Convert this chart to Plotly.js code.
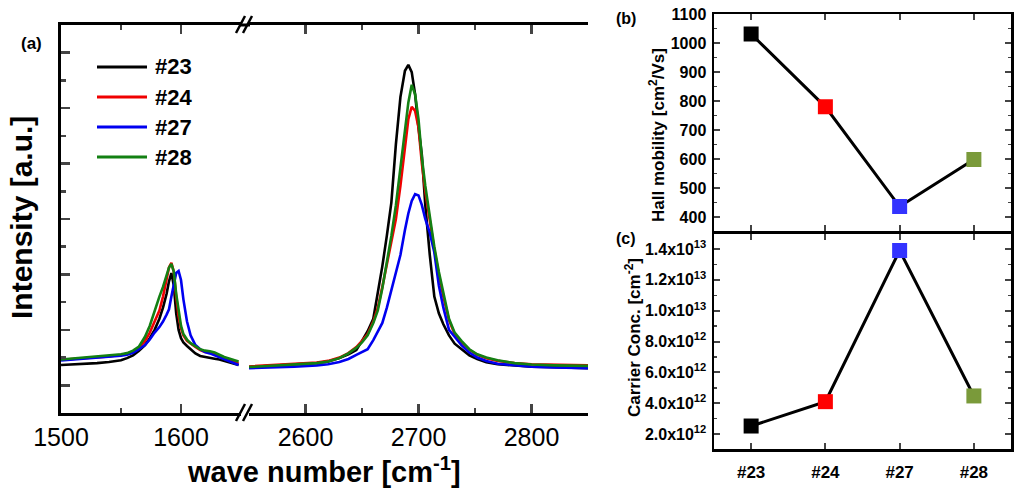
<!DOCTYPE html>
<html>
<head>
<meta charset="utf-8">
<script src="https://cdn.plot.ly/plotly-3.0.1.min.js"></script>
<style>html,body{margin:0;padding:0;background:#fff;}#chart{width:1020px;height:489px;}</style>
</head>
<body>
<div id="chart"></div>
<script>
// ---------- data ----------
const sampleNames = ['#23', '#24', '#27', '#28'];
const lineColors = ['#000000', '#f00000', '#0000f0', '#138013'];
const markerColors = ['#000000', '#ff0000', '#3333ff', '#7a9a3a'];

// G band region (cm-1)
const gWave = [1500,1510,1520,1530,1540,1550,1555,1560,1565,1570,1574,1578,1582,1585,1588,1590,1592,1594,1596,1598,1600,1602,1605,1608,1612,1616,1620,1624,1628,1632,1636,1640,1645,1648];
const g23 = [1.73,1.75,1.77,1.80,1.84,1.90,1.98,2.08,2.25,2.45,2.70,3.00,3.40,3.80,4.30,4.75,5.05,4.60,3.60,3.00,2.70,2.55,2.42,2.30,2.15,2.06,2.02,1.98,1.96,1.93,1.88,1.82,1.76,1.73];
const g24 = [1.92,1.95,1.98,2.00,2.04,2.10,2.14,2.22,2.35,2.60,2.90,3.30,3.70,4.20,4.85,5.25,5.42,5.10,4.20,3.50,3.05,2.80,2.60,2.50,2.38,2.27,2.20,2.18,2.10,2.02,1.96,1.90,1.84,1.80];
const g27 = [1.90,1.93,1.96,1.99,2.02,2.07,2.10,2.17,2.30,2.45,2.65,2.90,3.10,3.30,3.55,3.74,4.20,4.70,5.05,5.12,4.80,4.10,3.30,2.80,2.45,2.30,2.20,2.15,2.08,2.00,1.92,1.85,1.77,1.73];
const g28 = [1.93,1.97,2.00,2.03,2.07,2.12,2.16,2.25,2.40,2.75,3.15,3.70,4.20,4.55,5.00,5.25,5.38,5.10,4.30,3.70,3.15,2.85,2.65,2.52,2.40,2.30,2.25,2.23,2.18,2.10,2.02,1.97,1.90,1.86];

// 2D band region (cm-1)
const dWave = [2550,2570,2590,2610,2620,2630,2638,2645,2650,2655,2660,2664,2668,2672,2676,2680,2684,2688,2691,2694,2697,2700,2703,2706,2710,2714,2718,2722,2727,2732,2738,2745,2752,2760,2770,2785,2800,2820,2850];
const d23 = [1.66,1.70,1.74,1.80,1.86,1.98,2.12,2.27,2.60,2.95,3.40,4.30,5.30,6.40,7.60,9.70,11.40,12.35,12.56,12.30,11.50,10.30,9.30,7.50,5.70,4.20,3.60,3.20,2.80,2.50,2.30,2.08,1.95,1.83,1.76,1.71,1.67,1.65,1.62];
const d24 = [1.68,1.72,1.76,1.82,1.88,2.00,2.16,2.38,2.60,2.85,3.30,3.80,4.55,5.35,6.15,7.00,8.20,9.70,10.60,11.05,10.90,10.30,9.00,8.00,6.90,5.90,5.00,4.20,3.35,2.85,2.55,2.28,2.10,1.98,1.88,1.80,1.76,1.74,1.72];
const d27 = [1.62,1.64,1.67,1.72,1.76,1.84,1.95,2.10,2.20,2.30,2.63,2.95,3.25,3.80,4.40,5.00,5.70,6.60,7.20,7.65,7.90,7.85,7.50,7.00,6.50,5.80,4.60,3.80,3.00,2.75,2.45,2.18,2.00,1.88,1.78,1.72,1.67,1.64,1.62];
const d28 = [1.66,1.70,1.74,1.80,1.86,1.98,2.15,2.35,2.55,2.80,3.25,3.70,4.50,5.40,6.40,7.50,8.80,10.30,11.20,11.84,11.50,10.60,9.20,8.20,7.00,6.00,5.10,4.30,3.40,2.90,2.60,2.30,2.12,2.00,1.90,1.80,1.75,1.72,1.70];

const gSeries = [g23, g24, g27, g28];
const dSeries = [d23, d24, d27, d28];

// Hall data
const mobility = [1031, 780, 436, 598];
const carrier = [2.52e12, 4.1e12, 1.39e13, 4.47e12];

// tick labels
const leftWaveTicks = [1500, 1600];
const rightWaveTicks = [2600, 2700, 2800];
const mobilityTicks = [400, 500, 600, 700, 800, 900, 1000, 1100];
const concTickVals = [2e12, 4e12, 6e12, 8e12, 1.0e13, 1.2e13, 1.4e13];
const concTickText = ['2.0x10<sup>12</sup>', '4.0x10<sup>12</sup>', '6.0x10<sup>12</sup>', '8.0x10<sup>12</sup>',
                      '1.0x10<sup>13</sup>', '1.2x10<sup>13</sup>', '1.4x10<sup>13</sup>'];

// ---------- layout helpers ----------
const W = 1020, H = 489;
const px = v => v / W;
const py = v => (H - v) / H;
const FONT = 'Liberation Sans, Arial, sans-serif';

const traces = [];
for (let i = 0; i < 4; i++) {
  traces.push({x: gWave, y: gSeries[i], xaxis: 'x', yaxis: 'y', mode: 'lines',
    line: {color: lineColors[i], width: 2.6}, showlegend: false, hoverinfo: 'skip'});
  traces.push({x: dWave, y: dSeries[i], xaxis: 'x2', yaxis: 'y', mode: 'lines',
    line: {color: lineColors[i], width: 2.6}, showlegend: false, hoverinfo: 'skip'});
}
traces.push({x: sampleNames, y: mobility, xaxis: 'x3', yaxis: 'y3', mode: 'lines+markers',
  line: {color: '#000', width: 3}, marker: {symbol: 'square', size: 15, color: markerColors, line: {width: 0}},
  showlegend: false});
traces.push({x: sampleNames, y: carrier, xaxis: 'x4', yaxis: 'y4', mode: 'lines+markers',
  line: {color: '#000', width: 3}, marker: {symbol: 'square', size: 15, color: markerColors, line: {width: 0}},
  showlegend: false});

const aTickFont = {family: FONT, size: 25, color: '#000'};
const boldSmall = {family: FONT, size: 16, color: '#000', weight: 'bold'};

const layout = {
  width: W, height: H, autosize: false,
  margin: {l: 0, r: 0, t: 0, b: 0, pad: 0},
  paper_bgcolor: '#fff', plot_bgcolor: 'rgba(0,0,0,0)',
  showlegend: false,
  xaxis: {domain: [px(61), px(241)], range: [1500, 1650], anchor: 'y',
    tickvals: leftWaveTicks, ticktext: leftWaveTicks.map(String), ticks: 'inside', ticklen: 9, tickwidth: 2.5,
    minor: {ticks: 'inside', dtick: 50, tick0: 1500, ticklen: 5, tickwidth: 2.5},
    showline: true, linewidth: 3, linecolor: '#000', mirror: 'ticks', showgrid: false, zeroline: false,
    tickfont: aTickFont, ticklabelstandoff: 0},
  xaxis2: {domain: [px(249), px(588)], range: [2550, 2850], anchor: 'y',
    tickvals: rightWaveTicks, ticktext: rightWaveTicks.map(String), ticks: 'inside', ticklen: 9, tickwidth: 2.5,
    minor: {ticks: 'inside', dtick: 50, tick0: 2550, ticklen: 5, tickwidth: 2.5},
    showline: true, linewidth: 3, linecolor: '#000', mirror: 'ticks', showgrid: false, zeroline: false,
    tickfont: aTickFont, ticklabelstandoff: 0},
  yaxis: {domain: [py(413), py(25)], range: [0, 14], anchor: 'x',
    tick0: 1, dtick: 2, ticks: 'inside', ticklen: 9, tickwidth: 2.5, showticklabels: false,
    minor: {ticks: 'inside', dtick: 1, tick0: 0, ticklen: 5, tickwidth: 2.5},
    showline: true, linewidth: 3, linecolor: '#000', showgrid: false, zeroline: false},
  yaxis2: {domain: [py(413), py(25)], range: [0, 14], anchor: 'x2', overlaying: 'y', side: 'right',
    tick0: 1, dtick: 2, ticks: 'inside', ticklen: 9, tickwidth: 2.5, showticklabels: false,
    minor: {ticks: 'inside', dtick: 1, tick0: 0, ticklen: 5, tickwidth: 2.5},
    showline: true, linewidth: 3, linecolor: '#000', showgrid: false, zeroline: false},
  xaxis3: {domain: [px(714), px(1011)], range: [-0.5, 3.5], anchor: 'y3', type: 'category',
    ticks: 'inside', ticklen: 6, tickwidth: 2, showticklabels: false,
    showline: true, linewidth: 2.5, linecolor: '#000', mirror: 'ticks', showgrid: false, zeroline: false},
  yaxis3: {domain: [py(230.5), py(14)], range: [353.5, 1100], anchor: 'x3',
    tickvals: mobilityTicks, ticktext: mobilityTicks.map(String), ticks: 'inside', ticklen: 6, tickwidth: 2,
    minor: {ticks: 'inside', dtick: 50, tick0: 0, ticklen: 3, tickwidth: 1.5},
    showline: true, linewidth: 2.5, linecolor: '#000', mirror: 'ticks', showgrid: false, zeroline: false,
    tickfont: boldSmall, ticklabelstandoff: 2},
  xaxis4: {domain: [px(714), px(1011)], range: [-0.5, 3.5], anchor: 'y4', type: 'category',
    ticks: 'inside', ticklen: 6, tickwidth: 2,
    showline: true, linewidth: 2.5, linecolor: '#000', mirror: 'ticks', showgrid: false, zeroline: false,
    tickfont: {family: FONT, size: 17, color: '#000', weight: 'bold'}, ticklabelstandoff: 6},
  yaxis4: {domain: [py(449), py(233.5)], range: [1.03e12, 1.5005e13], anchor: 'x4',
    tickvals: concTickVals, ticktext: concTickText, ticks: 'inside', ticklen: 6, tickwidth: 2,
    minor: {ticks: 'inside', dtick: 1e12, tick0: 0, ticklen: 3, tickwidth: 1.5},
    showline: true, linewidth: 2.5, linecolor: '#000', mirror: 'ticks', showgrid: false, zeroline: false,
    tickfont: boldSmall, ticklabelstandoff: 2},
  shapes: [
    // top frame across the break gap
    {type: 'line', xref: 'paper', yref: 'paper', x0: px(240), x1: px(250), y0: py(25), y1: py(25),
      line: {color: '#000', width: 3}},
    // break marks top
    {type: 'line', xref: 'paper', yref: 'paper', x0: px(236), x1: px(245), y0: py(33), y1: py(16), line: {color: '#000', width: 2.5}},
    {type: 'line', xref: 'paper', yref: 'paper', x0: px(243), x1: px(252), y0: py(33), y1: py(16), line: {color: '#000', width: 2.5}},
    // break marks bottom
    {type: 'line', xref: 'paper', yref: 'paper', x0: px(236), x1: px(245), y0: py(421), y1: py(404), line: {color: '#000', width: 2.5}},
    {type: 'line', xref: 'paper', yref: 'paper', x0: px(243), x1: px(252), y0: py(421), y1: py(404), line: {color: '#000', width: 2.5}}
  ],
  annotations: [
    {text: 'wave number [cm<sup>-1</sup>]', xref: 'paper', yref: 'paper', x: px(324), y: py(470),
      xanchor: 'center', yanchor: 'middle', showarrow: false,
      font: {family: FONT, size: 29, color: '#000', weight: 'bold'}},
    {text: 'Intensity [a.u.]', xref: 'paper', yref: 'paper', x: px(21), y: py(218), textangle: -90,
      xanchor: 'center', yanchor: 'middle', showarrow: false,
      font: {family: FONT, size: 30, color: '#000', weight: 'bold'}},
    {text: '(a)', xref: 'paper', yref: 'paper', x: px(31), y: py(43), xanchor: 'center', yanchor: 'middle',
      showarrow: false, font: {family: FONT, size: 17, color: '#000', weight: 'bold'}},
    {text: '(b)', xref: 'paper', yref: 'paper', x: px(626), y: py(18), xanchor: 'center', yanchor: 'middle',
      showarrow: false, font: {family: FONT, size: 16, color: '#000', weight: 'bold'}},
    {text: '(c)', xref: 'paper', yref: 'paper', x: px(626), y: py(238), xanchor: 'center', yanchor: 'middle',
      showarrow: false, font: {family: FONT, size: 16, color: '#000', weight: 'bold'}},
    {text: 'Hall mobility [cm<sup>2</sup>/Vs]', xref: 'paper', yref: 'paper', x: px(657), y: py(135), textangle: -90,
      xanchor: 'center', yanchor: 'middle', showarrow: false,
      font: {family: FONT, size: 17, color: '#000', weight: 'bold'}},
    {text: 'Carrier Conc. [cm<sup>-2</sup>]', xref: 'paper', yref: 'paper', x: px(633), y: py(338), textangle: -90,
      xanchor: 'center', yanchor: 'middle', showarrow: false,
      font: {family: FONT, size: 17, color: '#000', weight: 'bold'}}
  ]
};

// custom legend (line sample + label)
const legendRows = [67, 97, 127, 157];
for (let i = 0; i < sampleNames.length; i++) {
  layout.shapes.push({type: 'line', xref: 'paper', yref: 'paper', x0: px(97), x1: px(147),
    y0: py(legendRows[i]), y1: py(legendRows[i]), line: {color: lineColors[i], width: 3}});
  layout.annotations.push({text: sampleNames[i], xref: 'paper', yref: 'paper', x: px(153), y: py(legendRows[i]),
    xanchor: 'left', yanchor: 'middle', showarrow: false,
    font: {family: FONT, size: 22, color: '#000', weight: 'bold'}});
}

Plotly.newPlot('chart', traces, layout, {displayModeBar: false, staticPlot: true});
</script>
</body>
</html>
